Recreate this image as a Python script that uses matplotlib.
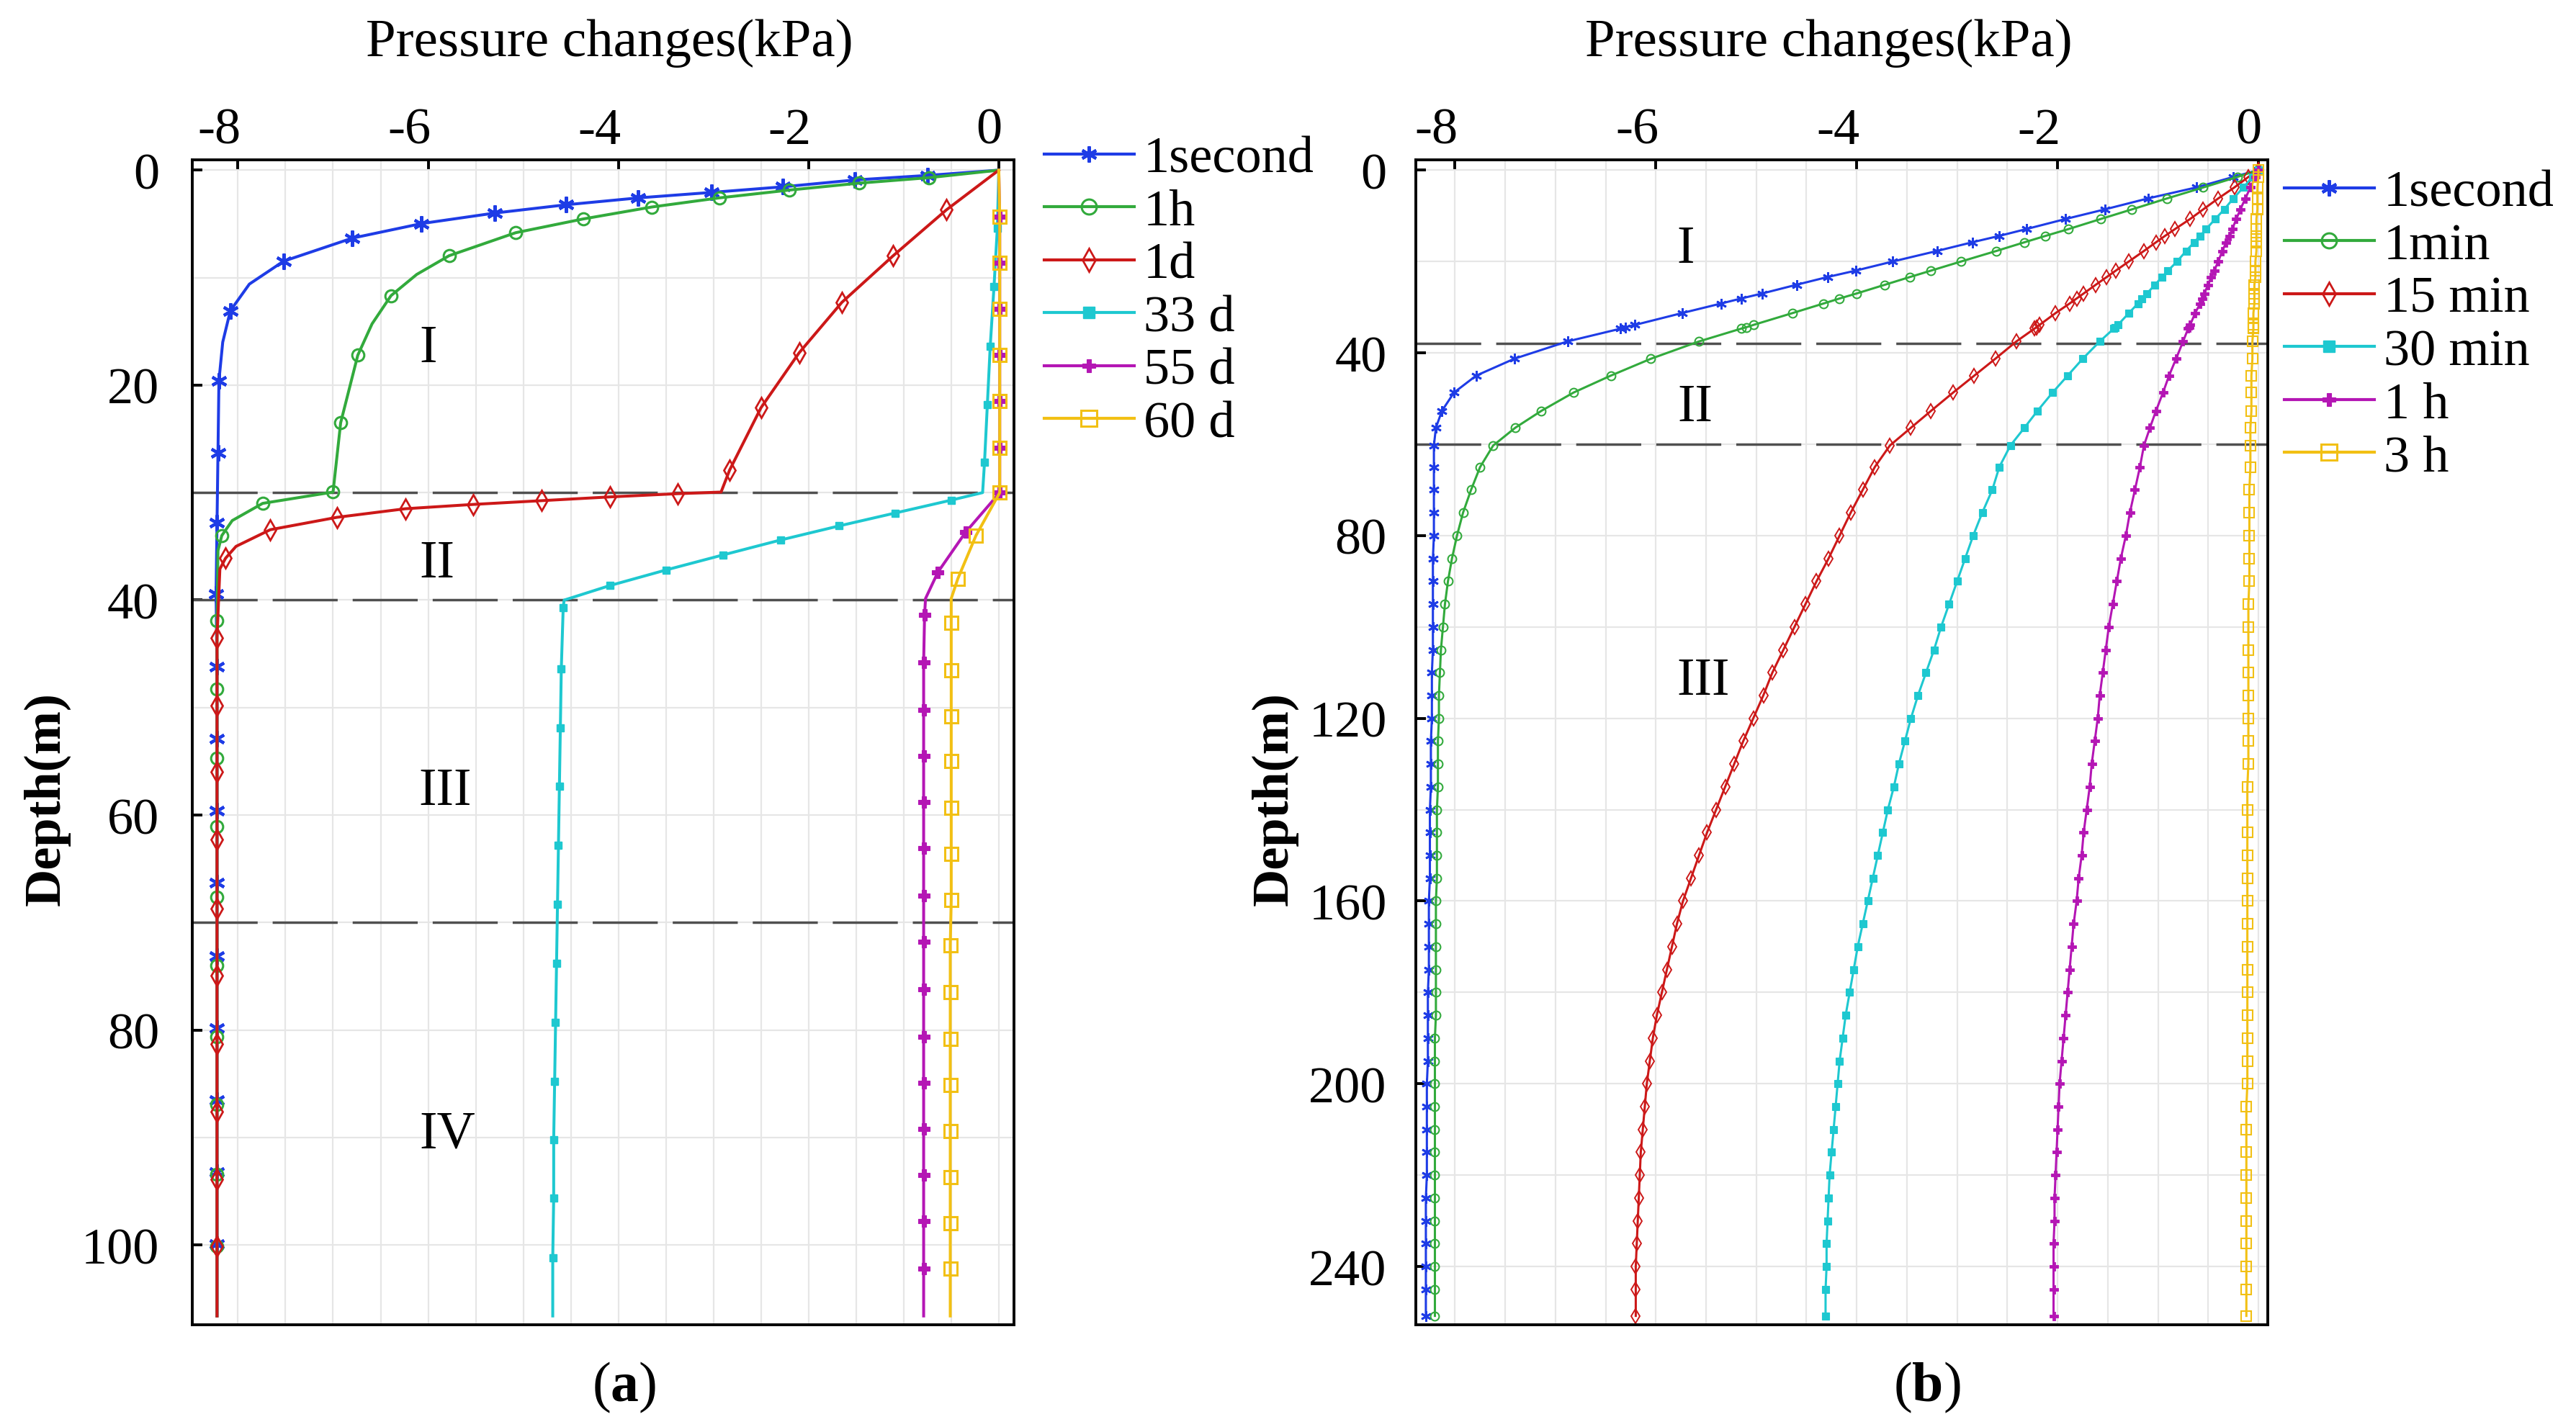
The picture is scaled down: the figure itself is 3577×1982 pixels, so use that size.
import matplotlib
matplotlib.use('Agg')
import matplotlib.pyplot as plt
from matplotlib.ticker import MultipleLocator
from matplotlib.lines import Line2D
from matplotlib.transforms import ScaledTranslation

plt.rcParams['font.family'] = 'Liberation Serif'
plt.rcParams['axes.unicode_minus'] = False
plt.rcParams['mathtext.fontset'] = 'custom'
plt.rcParams['mathtext.rm'] = 'Liberation Serif'
plt.rcParams['mathtext.bf'] = 'Liberation Serif:bold'

# ---------------- data (a) : depth (m) / pressure change (kPa) ----------------
a_labels = ['1second', '1h', '1d', '33 d', '55 d', '60 d']
a_zones = [30, 40, 70]
a_zone_names = ['I', 'II', 'III', 'IV']

a_1s_depth = [0, 0.49, 0.91, 1.55, 2.07, 2.58, 3.22, 3.99, 4.97, 6.33,
              8.47, 10.6, 13.08, 16.0, 19.6, 26.3, 32.8, 39.4, 46.2, 52.9,
              59.6, 66.3, 73.1, 79.8, 86.5, 93.2, 99.9, 106.6]
a_1s_p = [0, -0.75, -1.51, -2.27, -3.02, -3.79, -4.55, -5.30, -6.07, -6.80,
          -7.52, -7.88, -8.08, -8.16, -8.20, -8.21, -8.22, -8.23, -8.22, -8.22,
          -8.22, -8.22, -8.22, -8.22, -8.22, -8.22, -8.22, -8.22]

a_1h_depth = [0, 0.70, 1.21, 1.85, 2.58, 3.43, 4.54, 5.82, 7.96, 9.7,
              11.67, 14.3, 17.22, 23.5, 29.95, 31.0, 32.6, 34.0, 35.4, 41.9,
              48.3, 54.7, 61.1, 67.6, 74.0, 80.6, 86.9, 93.4, 100.1, 106.6]
a_1h_p = [0, -0.735, -1.47, -2.20, -2.94, -3.65, -4.37, -5.08, -5.78, -6.12,
          -6.39, -6.59, -6.74, -6.92, -7.00, -7.74, -8.06, -8.17, -8.21, -8.22,
          -8.22, -8.22, -8.22, -8.22, -8.22, -8.22, -8.22, -8.22, -8.22, -8.22]

a_1d_depth = [0, 3.69, 7.96, 12.3, 17.0, 22.1, 27.9, 29.95, 30.1, 30.4,
              30.75, 31.1, 31.5, 32.3, 33.45, 35.0, 36.1, 37.1, 43.5, 49.8,
              56.0, 62.3, 68.7, 74.9, 81.3, 87.6, 93.9, 100.1, 106.6]
a_1d_p = [0, -0.55, -1.11, -1.65, -2.10, -2.50, -2.83, -2.92, -3.38, -4.09,
          -4.81, -5.53, -6.24, -6.96, -7.66, -8.02, -8.13, -8.19, -8.22, -8.22,
          -8.22, -8.22, -8.22, -8.22, -8.22, -8.22, -8.22, -8.22, -8.22]

a_33d_depth = [0, 5.4, 10.8, 16.4, 21.8, 27.2, 30.0, 30.7, 31.9, 33.1,
               34.4, 35.8, 37.2, 38.65, 40.0, 40.7, 46.4, 51.9, 57.3, 62.8,
               68.3, 73.8, 79.3, 84.8, 90.2, 95.6, 101.2, 106.6]
a_33d_p = [0, -0.015, -0.05, -0.09, -0.12, -0.15, -0.17, -0.50, -1.09, -1.68,
           -2.29, -2.90, -3.50, -4.09, -4.57, -4.58, -4.60, -4.61, -4.62, -4.63,
           -4.64, -4.65, -4.66, -4.67, -4.68, -4.68, -4.69, -4.69]

a_55d_depth = [0, 4.3, 8.6, 12.9, 17.2, 21.5, 25.8, 30.0, 33.7, 37.4,
               39.85, 41.35, 45.8, 50.2, 54.5, 58.8, 63.1, 67.5, 71.8, 76.2,
               80.6, 84.9, 89.2, 93.5, 97.8, 102.2, 106.6]
a_55d_p = [0, 0.01, 0.01, 0.01, 0.01, 0.01, 0.01, 0.01, -0.35, -0.64,
           -0.77, -0.78, -0.79, -0.79, -0.79, -0.79, -0.79, -0.79, -0.79, -0.79,
           -0.79, -0.79, -0.79, -0.79, -0.79, -0.79, -0.79]

a_60d_depth = [0, 4.3, 8.6, 12.9, 17.2, 21.5, 25.8, 30.0, 34.0, 38.0,
               39.85, 42.1, 46.5, 50.8, 55.0, 59.3, 63.6, 67.9, 72.1, 76.5,
               80.8, 85.1, 89.4, 93.7, 98.0, 102.2, 106.6]
a_60d_p = [0, 0.01, 0.01, 0.01, 0.01, 0.01, 0.01, 0.01, -0.24, -0.43,
           -0.50, -0.50, -0.50, -0.50, -0.50, -0.50, -0.50, -0.50, -0.51, -0.51,
           -0.51, -0.51, -0.51, -0.51, -0.51, -0.51, -0.51]

# ---------------- data (b) : common depth nodes ----------------
b_labels = ['1second', '1min', '15 min', '30 min', '1 h', '3 h']
b_zones = [38, 60]
b_zone_names = ['I', 'II', 'III']

b_depth = [0, 1.5, 3.8, 6.2, 8.6, 10.7, 12.9, 14.4, 15.8, 17.7,
           20.0, 22.0, 23.4, 25.1, 27.0, 28.1, 29.2, 31.3, 33.9, 34.4,
           34.7, 37.5, 41.3, 45.0, 48.7, 52.7, 56.4, 60.3,
           65, 70, 75, 80, 85, 90, 95, 100, 105, 110,
           115, 120, 125, 130, 135, 140, 145, 150, 155, 160,
           165, 170, 175, 180, 185, 190, 195, 200, 205, 210,
           215, 220, 225, 230, 235, 240, 245, 250.8]

b_1s = [0, -0.25, -0.62, -1.10, -1.53, -1.92, -2.31, -2.58, -2.85, -3.20,
        -3.64, -4.01, -4.29, -4.60, -4.94, -5.15, -5.35, -5.74, -6.21, -6.30,
        -6.35, -6.88, -7.41, -7.79, -8.01, -8.13, -8.19, -8.21,
        -8.21, -8.21, -8.21, -8.21, -8.22, -8.22, -8.22, -8.22, -8.22, -8.23,
        -8.23, -8.23, -8.24, -8.24, -8.24, -8.25, -8.25, -8.25, -8.25, -8.26,
        -8.26, -8.26, -8.26, -8.27, -8.27, -8.27, -8.27, -8.28, -8.28, -8.28,
        -8.28, -8.28, -8.29, -8.29, -8.29, -8.29, -8.29, -8.29]

b_1min = [0, -0.21, -0.55, -0.91, -1.26, -1.57, -1.89, -2.12, -2.33, -2.61,
          -2.96, -3.26, -3.47, -3.72, -4.00, -4.17, -4.33, -4.64, -5.03, -5.10,
          -5.15, -5.57, -6.05, -6.45, -6.82, -7.14, -7.40, -7.62,
          -7.75, -7.84, -7.92, -7.98, -8.03, -8.07, -8.10, -8.12, -8.14, -8.15,
          -8.16, -8.16, -8.17, -8.17, -8.17, -8.18, -8.18, -8.18, -8.18, -8.19,
          -8.19, -8.19, -8.19, -8.19, -8.19, -8.20, -8.20, -8.20, -8.20, -8.20,
          -8.20, -8.20, -8.20, -8.20, -8.20, -8.20, -8.20, -8.20]

b_15min = [0, -0.10, -0.24, -0.40, -0.55, -0.68, -0.83, -0.93, -1.02, -1.14,
           -1.29, -1.42, -1.51, -1.62, -1.74, -1.81, -1.88, -2.02, -2.18, -2.21,
           -2.23, -2.41, -2.62, -2.83, -3.04, -3.26, -3.46, -3.67,
           -3.82, -3.94, -4.06, -4.17, -4.28, -4.40, -4.51, -4.62, -4.73, -4.84,
           -4.93, -5.03, -5.13, -5.22, -5.31, -5.40, -5.49, -5.57, -5.65, -5.73,
           -5.79, -5.84, -5.89, -5.94, -5.99, -6.03, -6.06, -6.09, -6.11, -6.13,
           -6.15, -6.16, -6.17, -6.18, -6.19, -6.20, -6.20, -6.20]

b_30min = [0, -0.06, -0.15, -0.25, -0.34, -0.43, -0.52, -0.58, -0.64, -0.72,
           -0.81, -0.90, -0.96, -1.03, -1.11, -1.16, -1.20, -1.29, -1.40, -1.43,
           -1.44, -1.58, -1.75, -1.90, -2.05, -2.20, -2.33, -2.47,
           -2.58, -2.65, -2.75, -2.84, -2.92, -3.00, -3.08, -3.16, -3.23, -3.31,
           -3.39, -3.46, -3.52, -3.58, -3.63, -3.69, -3.74, -3.79, -3.84, -3.89,
           -3.94, -3.99, -4.03, -4.07, -4.11, -4.14, -4.17, -4.19, -4.21, -4.23,
           -4.25, -4.27, -4.28, -4.29, -4.30, -4.30, -4.31, -4.31]

b_1h = [0, -0.03, -0.08, -0.13, -0.18, -0.22, -0.26, -0.29, -0.32, -0.36,
        -0.40, -0.44, -0.47, -0.50, -0.54, -0.56, -0.58, -0.63, -0.68, -0.69,
        -0.70, -0.75, -0.82, -0.89, -0.95, -1.02, -1.08, -1.14,
        -1.18, -1.23, -1.28, -1.32, -1.37, -1.41, -1.45, -1.49, -1.52, -1.55,
        -1.58, -1.60, -1.63, -1.66, -1.68, -1.71, -1.74, -1.76, -1.79, -1.81,
        -1.84, -1.86, -1.88, -1.90, -1.92, -1.94, -1.96, -1.98, -1.99, -2.00,
        -2.01, -2.02, -2.03, -2.03, -2.04, -2.04, -2.04, -2.04]

b_3h = [0, 0.0, -0.01, -0.01, -0.01, -0.02, -0.02, -0.02, -0.02, -0.02,
        -0.03, -0.03, -0.03, -0.04, -0.04, -0.04, -0.04, -0.05, -0.05, -0.05,
        -0.05, -0.06, -0.06, -0.07, -0.07, -0.07, -0.08, -0.08,
        -0.08, -0.09, -0.09, -0.09, -0.09, -0.09, -0.10, -0.10, -0.10, -0.10,
        -0.10, -0.10, -0.10, -0.10, -0.11, -0.11, -0.11, -0.11, -0.11, -0.11,
        -0.11, -0.11, -0.11, -0.11, -0.11, -0.11, -0.11, -0.11, -0.12, -0.12,
        -0.12, -0.12, -0.12, -0.12, -0.12, -0.12, -0.12, -0.12]

# ---------------- styles ----------------
colors = ['#1e3ce6', '#32aa3c', '#cc1818', '#1ec8d0', '#b416b4', '#f2c014']
markers = [(6, 2, 0), 'o', 'd', 's', 'P', 's']
filled = [True, False, False, True, True, False]
ms_a = [16, 12, 14, 7.5, 11, 13]
ms_b = [10.5, 8.5, 10, 6.5, 8.5, 10]
ms_leg = [16, 15, 16, 11, 13, 16]
mew_a = [3.0, 2.2, 2.0, 1.0, 0.8, 2.2]
mew_b = [2.0, 1.5, 1.4, 0.8, 0.6, 1.5]
# marker spacing along the curves of (a), fraction of the axes diagonal
a_step = [0.0505, 0.0485, 0.047, 0.0412, 0.0327, 0.0323]

fig = plt.figure(figsize=(35.77, 19.83), dpi=100)
ax_a = fig.add_axes([0.07465, 0.07176, 0.31898, 0.81563])
ax_b = fig.add_axes([0.54962, 0.07176, 0.33072, 0.81563])


def mk(i, ms, mew):
    c = colors[i]
    return dict(marker=markers[i], markersize=ms, markeredgewidth=mew,
                markeredgecolor=c, markerfacecolor=c if filled[i] else 'none')


a_series = [(a_1s_depth, a_1s_p), (a_1h_depth, a_1h_p), (a_1d_depth, a_1d_p),
            (a_33d_depth, a_33d_p), (a_55d_depth, a_55d_p), (a_60d_depth, a_60d_p)]
for i, (d, p) in enumerate(a_series):
    ax_a.plot(p, d, color=colors[i], lw=2.9)
    # markers spaced evenly along the curve, none at the bottom end
    ax_a.plot(p[:-1], d[:-1], ls='none', markevery=(a_step[i], a_step[i]),
              **mk(i, ms_a[i], mew_a[i]))

b_series = [b_1s, b_1min, b_15min, b_30min, b_1h, b_3h]
for i, p in enumerate(b_series):
    ax_b.plot(p, b_depth, color=colors[i], lw=2.2, **mk(i, ms_b[i], mew_b[i]))

for y in a_zones:
    ax_a.axhline(y, color='#505050', lw=2.5, dashes=(26, 6), zorder=1.5)
for y in b_zones:
    ax_b.axhline(y, color='#505050', lw=2.5, dashes=(26, 6), zorder=1.5)

ax_a.set_xlim(-8.48, 0.16)
ax_a.set_ylim(107.4, -0.94)
ax_b.set_xlim(-8.39, 0.093)
ax_b.set_ylim(252.7, -2.2)

for ax, yt, ymin, ypad in [(ax_a, [0, 20, 40, 60, 80, 100], 10, 33),
                           (ax_b, [0, 40, 80, 120, 160, 200, 240], 20, 29)]:
    ax.xaxis.tick_top()
    ax.set_xticks([-8, -6, -4, -2, 0])
    ax.set_xticklabels(['-8', '-6', '-4', '-2', '0'])
    ax.xaxis.set_minor_locator(MultipleLocator(0.5))
    ax.set_yticks(yt)
    ax.yaxis.set_minor_locator(MultipleLocator(ymin))
    ax.tick_params(which='major', direction='in', length=10, width=2.8, labelsize=52)
    ax.tick_params(which='minor', length=0)
    ax.tick_params(axis='x', pad=6)
    ax.tick_params(axis='y', pad=ypad)
    ax.grid(True, which='both', color='#e6e6e6', lw=1.6)
    ax.set_axisbelow(True)
    for s in ax.spines.values():
        s.set_linewidth(2.8)
    off = ScaledTranslation(4 / 100, 0, fig.dpi_scale_trans)
    for lab in ax.get_xticklabels():
        lab.set_ha('right')
        lab.set_transform(lab.get_transform() + off)

# axis titles
for ax, xl_x, yl_x in [(ax_a, 0.508, -0.177), (ax_b, 0.4847, -0.166)]:
    ax.xaxis.set_label_position('top')
    ax.set_xlabel('Pressure changes(kPa)', fontsize=54)
    ax.xaxis.set_label_coords(xl_x, 1.1006)
    ax.xaxis.label.set_va('center')
    ax.set_ylabel('Depth(m)', fontsize=52, fontweight='bold')
    ax.yaxis.set_label_coords(yl_x, 0.452)
    ax.yaxis.label.set_va('center')

# zone numerals
a_zone_pos = [(-6.0, 16.6), (-5.91, 36.65), (-5.82, 57.8), (-5.80, 89.7)]
for name, (x, y) in zip(a_zone_names, a_zone_pos):
    ax_a.text(x, y, name, ha='center', va='center', fontsize=53)
b_zone_pos = [(-5.70, 17.4), (-5.61, 52.0), (-5.53, 111.9)]
for name, (x, y) in zip(b_zone_names, b_zone_pos):
    ax_b.text(x, y, name, ha='center', va='center', fontsize=53)

# legends
for ax, labels, anchor in [(ax_a, a_labels, (1.0368, 1.021)),
                           (ax_b, b_labels, (1.0194, 0.992))]:
    handles = [Line2D([], [], color=colors[i], lw=3, **mk(i, ms_leg[i], mew_a[i]))
               for i in range(len(labels))]
    ax.legend(handles, labels, loc='upper left', bbox_to_anchor=anchor,
              frameon=False, borderpad=0, borderaxespad=0, handlelength=1.73,
              handletextpad=0.18, labelspacing=0.11, fontsize=52)

fig.text(0.2424, 0.0282, r'($\mathbf{a}$)', ha='center', va='center', fontsize=56)
fig.text(0.7481, 0.0282, r'($\mathbf{b}$)', ha='center', va='center', fontsize=56)

fig.savefig('out.png', dpi=100)
